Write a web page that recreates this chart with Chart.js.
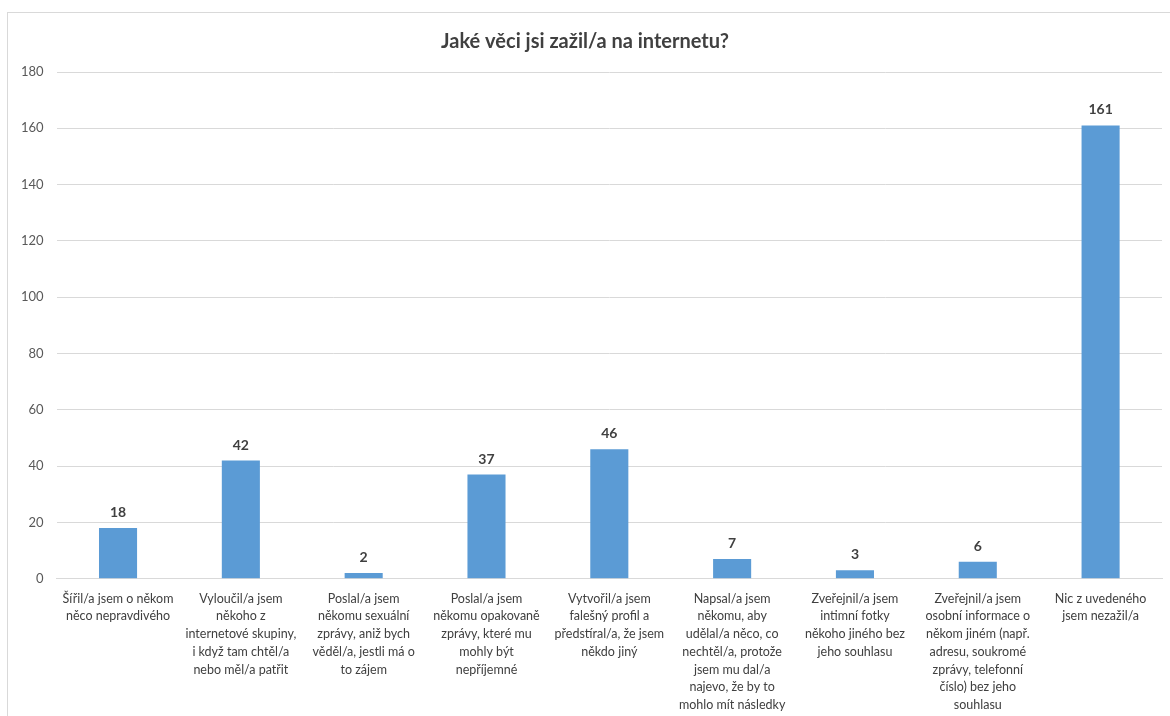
<!DOCTYPE html>
<html><head><meta charset="utf-8">
<script src="https://cdn.jsdelivr.net/npm/chart.js@4.4.0/dist/chart.umd.min.js"></script>
<style>
html,body{margin:0;padding:0;background:#fff;}
#wrap{position:absolute;left:0;top:0;width:1170px;height:716px;}
#frame{position:absolute;left:7px;top:12px;width:1170px;height:720px;border-left:1px solid #d9d9d9;border-top:1px solid #d9d9d9;box-sizing:border-box;}
canvas{position:absolute;left:0;top:0;}
</style></head>
<body>
<div id="wrap"><div id="frame"></div><canvas id="c" width="1170" height="716"></canvas></div>
<script>
const title = "Jaké věci jsi zažil/a na internetu?";
const categories = [
  ["Šířil/a jsem o někom", "něco nepravdivého"],
  ["Vyloučil/a jsem", "někoho z", "internetové skupiny,", "i když tam chtěl/a", "nebo měl/a patřit"],
  ["Poslal/a jsem", "někomu sexuální", "zprávy, aniž bych", "věděl/a, jestli má o", "to zájem"],
  ["Poslal/a jsem", "někomu opakovaně", "zprávy, které mu", "mohly být", "nepříjemné"],
  ["Vytvořil/a jsem", "falešný profil a", "předstíral/a, že jsem", "někdo jiný"],
  ["Napsal/a jsem", "někomu, aby", "udělal/a něco, co", "nechtěl/a, protože", "jsem mu dal/a", "najevo, že by to", "mohlo mít následky"],
  ["Zveřejnil/a jsem", "intimní fotky", "někoho jiného bez", "jeho souhlasu"],
  ["Zveřejnil/a jsem", "osobní informace o", "někom jiném (např.", "adresu, soukromé", "zprávy, telefonní", "číslo) bez jeho", "souhlasu"],
  ["Nic z uvedeného", "jsem nezažil/a"]
];
const values = [18, 42, 2, 37, 46, 7, 3, 6, 161];
const yTicks = [0, 20, 40, 60, 80, 100, 120, 140, 160, 180];

const FONT = "Lato, 'Open Sans', sans-serif";

const valueLabels = {
  id: 'valueLabels',
  afterDatasetsDraw(chart) {
    const ctx = chart.ctx;
    const meta = chart.getDatasetMeta(0);
    ctx.save();
    ctx.font = "bold 14px " + FONT;
    ctx.fillStyle = "#404040";
    ctx.textAlign = "center";
    ctx.textBaseline = "alphabetic";
    meta.data.forEach((bar, i) => {
      ctx.fillText(String(chart.data.datasets[0].data[i]), bar.x, bar.y - 11);
    });
    ctx.restore();
  }
};

new Chart(document.getElementById('c'), {
  type: 'bar',
  data: {
    labels: categories,
    datasets: [{
      data: values,
      backgroundColor: '#5b9bd5',
      borderWidth: 0,
      categoryPercentage: 1,
      barPercentage: 0.31
    }]
  },
  options: {
    responsive: false,
    animation: false,
    devicePixelRatio: 1,
    layout: { padding: { left: 8, right: 8, top: 30, bottom: -1 } },
    plugins: {
      legend: { display: false },
      tooltip: { enabled: false },
      title: {
        display: true,
        text: title,
        color: '#404040',
        font: { family: FONT, size: 20, weight: 'bold' },
        padding: { top: 0, bottom: 18 }
      }
    },
    scales: {
      x: {
        grid: { display: false },
        border: { color: '#d9d9d9' },
        ticks: {
          color: '#404040',
          font: { family: FONT, size: 12.5, lineHeight: 1.42 },
          maxRotation: 0, minRotation: 0, autoSkip: false, padding: 3
        }
      },
      y: {
        min: 0, max: yTicks[yTicks.length - 1],
        afterBuildTicks(axis) { axis.ticks = yTicks.map(v => ({ value: v })); },
        grid: { color: '#d9d9d9', drawTicks: false },
        border: { display: false },
        ticks: {
          color: '#595959',
          font: { family: FONT, size: 13 },
          padding: 13
        }
      }
    }
  },
  plugins: [valueLabels]
});
</script>
</body></html>
